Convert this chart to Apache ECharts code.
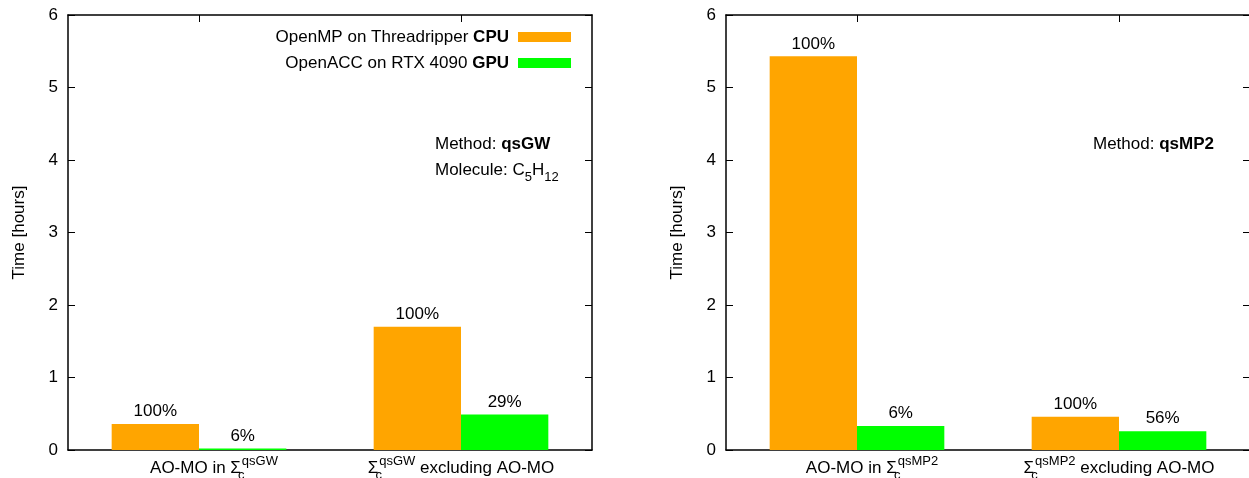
<!DOCTYPE html>
<html><head><meta charset="utf-8">
<script src="https://cdn.jsdelivr.net/npm/echarts@6/dist/echarts.min.js"></script>
<style>html,body{margin:0;padding:0;background:#fff}#c{width:1249px;height:478px}</style>
</head><body><div id="c"></div>
<script>
// ---- data ----
const categoriesGW = ['AO-MO in Σ_c^qsGW', 'Σ_c^qsGW excluding AO-MO'];
const cpuGW = [0.36, 1.70];
const gpuGW = [0.022, 0.49];
const cpuGWPct = ['100%', '100%'];
const gpuGWPct = ['6%', '29%'];

const categoriesMP2 = ['AO-MO in Σ_c^qsMP2', 'Σ_c^qsMP2 excluding AO-MO'];
const cpuMP2 = [5.43, 0.46];
const gpuMP2 = [0.33, 0.26];
const cpuMP2Pct = ['100%', '100%'];
const gpuMP2Pct = ['6%', '56%'];

const seriesNames = ['OpenMP on Threadripper CPU', 'OpenACC on RTX 4090 GPU'];
const yMin = 0, yMax = 6, yStep = 1;
const yAxisTitle = 'Time [hours]';

// ---- styling ----
const FONT = '"Liberation Sans", Arial, Helvetica, sans-serif';
const BLACK = '#000';
const ORANGE = '#FFA500';
const GREEN = '#00FF00';

function richLabel(s) {
  return s.split(/(Σ_c\^\w+)/).filter(Boolean).map(p => {
    const m = p.match(/^Σ_c\^(\w+)$/);
    return m ? '{n|Σ}{sub|c}{sup|' + m[1] + '}' : '{n|' + p + '}';
  }).join('');
}
const labelRich = {
  n: {fontSize: 17, fontFamily: FONT, color: BLACK, lineHeight: 20, verticalAlign: 'top', padding: [6, 0, 0, 0]},
  sup: {fontSize: 13, fontFamily: FONT, color: BLACK, lineHeight: 14, verticalAlign: 'top', padding: [1, 0, 0, 0]},
  sub: {fontSize: 13, fontFamily: FONT, color: BLACK, lineHeight: 14, verticalAlign: 'top', padding: [15, 0, 0, 0], width: 1},
  pad: {width: 30, fontSize: 17, lineHeight: 20}
};

const axisLineStyle = {show: true, onZero: false, lineStyle: {color: BLACK, width: 1.5}};

function xAxes(gi, cats) {
  return [
    {type: 'category', gridIndex: gi, position: 'bottom', data: cats,
     axisLine: axisLineStyle,
     axisTick: {show: false},
     axisLabel: {margin: 4, interval: 0, rich: labelRich,
       formatter: (v, i) => (i === 0 ? '{pad| }' : '') + richLabel(v)}},
    {type: 'category', gridIndex: gi, position: 'top', data: cats,
     axisLine: axisLineStyle,
     axisTick: {show: true, inside: true, alignWithLabel: true, length: 7, lineStyle: {color: BLACK}},
     axisLabel: {show: false}}
  ];
}
function yAxes(gi) {
  return [
    {type: 'value', gridIndex: gi, position: 'left', min: yMin, max: yMax, interval: yStep,
     name: yAxisTitle, nameLocation: 'middle', nameGap: 40,
     nameTextStyle: {fontSize: 17, fontFamily: FONT, color: BLACK},
     axisLine: axisLineStyle, splitLine: {show: false},
     axisTick: {show: true, inside: true, length: 7, lineStyle: {color: BLACK}},
     axisLabel: {fontSize: 17, fontFamily: FONT, color: BLACK, margin: 10}},
    {type: 'value', gridIndex: gi, position: 'right', min: yMin, max: yMax, interval: yStep,
     axisLine: axisLineStyle, splitLine: {show: false},
     axisTick: {show: true, inside: true, length: 7, lineStyle: {color: BLACK}},
     axisLabel: {show: false}}
  ];
}
function bar(name, xi, yi, data, pct, color) {
  return {type: 'bar', name, xAxisIndex: xi, yAxisIndex: yi, data,
    barWidth: '33.33%', barGap: '0%', itemStyle: {color},
    label: {show: true, position: 'top', distance: 4, fontSize: 17, fontFamily: FONT, color: BLACK,
      formatter: p => pct[p.dataIndex]},
    emphasis: {disabled: true}, animation: false};
}

const chart = echarts.init(document.getElementById('c'), null, {renderer: 'canvas'});
chart.setOption({
  animation: false,
  backgroundColor: '#fff',
  textStyle: {fontFamily: FONT},
  grid: [
    {left: 68, right: 657, top: 15, bottom: 28, containLabel: false, outerBoundsMode: 'none'},
    {left: 726, right: -1, top: 15, bottom: 28, containLabel: false, outerBoundsMode: 'none'}
  ],
  xAxis: [...xAxes(0, categoriesGW), ...xAxes(1, categoriesMP2)],
  yAxis: [...yAxes(0), ...yAxes(1)],
  legend: {
    data: seriesNames, orient: 'vertical', right: 673, top: 22, align: 'right',
    icon: 'rect', itemWidth: 53, itemHeight: 10, itemGap: 6, selectedMode: false,
    textStyle: {fontSize: 17, fontFamily: FONT, color: BLACK, lineHeight: 20, padding: [0, 4, 0, 0],
      rich: {b: {fontSize: 17, fontFamily: FONT, color: BLACK, fontWeight: 'bold', lineHeight: 20}}},
    formatter: n => n.replace(/(\S+)$/, '{b|$1}')
  },
  series: [
    bar(seriesNames[0], 0, 0, cpuGW, cpuGWPct, ORANGE),
    bar(seriesNames[1], 0, 0, gpuGW, gpuGWPct, GREEN),
    bar(seriesNames[0], 2, 2, cpuMP2, cpuMP2Pct, ORANGE),
    bar(seriesNames[1], 2, 2, gpuMP2, gpuMP2Pct, GREEN)
  ],
  graphic: [
    {type: 'text', left: 435, top: 136, style: {text: 'Method: {b|qsGW}', fontSize: 17, fontFamily: FONT, fill: BLACK,
      rich: {b: {fontSize: 17, fontFamily: FONT, fontWeight: 'bold'}}}},
    {type: 'text', left: 435, top: 162, style: {text: '{m|Molecule: C}{s|5}{m|H}{s|12}',
      rich: {m: {fontSize: 17, fontFamily: FONT, fill: BLACK, lineHeight: 20, verticalAlign: 'top'},
             s: {fontSize: 13, fontFamily: FONT, fill: BLACK, lineHeight: 14, verticalAlign: 'top', padding: [9, 0, 0, 0]}}}},
    {type: 'text', left: 1093, top: 136, style: {text: 'Method: {b|qsMP2}', fontSize: 17, fontFamily: FONT, fill: BLACK,
      rich: {b: {fontSize: 17, fontFamily: FONT, fontWeight: 'bold'}}}}
  ]
});
</script></body></html>
